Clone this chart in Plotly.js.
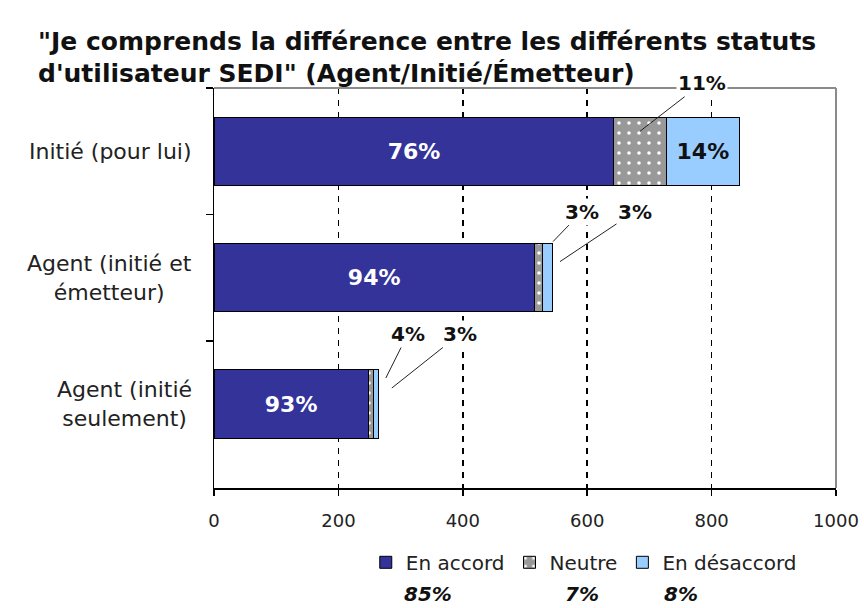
<!DOCTYPE html>
<html>
<head>
<meta charset="utf-8">
<script src="https://cdn.plot.ly/plotly-3.0.1.min.js"></script>
<style>html,body{margin:0;padding:0;background:#fff;}#chart{width:864px;height:608px;}</style>
</head>
<body>
<div id="chart"></div>
<script>
// ---- data ----
const categories = ['Initié (pour lui)', 'Agent (initié et émetteur)', 'Agent (initié seulement)'];
const categoryLabels = ['Initié (pour lui)', 'Agent (initié et<br>émetteur)', 'Agent (initié<br>seulement)'];
const seriesNames = ['En accord', 'Neutre', 'En désaccord'];
const enAccord = [643, 515, 248];
const neutre = [84, 13, 9];
const enDesaccord = [118, 17, 8];
const pctAccord = ['76%', '94%', '93%'];
const pctNeutre = ['11%', '3%', '4%'];
const pctDesaccord = ['14%', '3%', '3%'];
const totalsPct = ['85%', '7%', '8%'];
const xTicks = [0, 200, 400, 600, 800, 1000];

const FONT = '"DejaVu Sans", Verdana, sans-serif';
const colors = ['#333399', '#999999', '#99CCFF'];

const traces = [
  {
    type: 'bar', orientation: 'h', name: seriesNames[0],
    y: categories, x: enAccord, text: pctAccord,
    textposition: 'inside', insidetextanchor: 'middle', textangle: 0,
    textfont: {family: FONT, size: 22, color: '#ffffff', weight: 'bold'},
    marker: {color: colors[0], line: {color: '#000', width: 1}},
    hoverinfo: 'skip'
  },
  {
    type: 'bar', orientation: 'h', name: seriesNames[1],
    y: categories, x: neutre,
    marker: {color: colors[1], line: {color: '#000', width: 1},
      pattern: {shape: '.', fgcolor: '#ffffff', bgcolor: colors[1], size: 10, solidity: 0.1, fillmode: 'replace'}},
    hoverinfo: 'skip'
  },
  {
    type: 'bar', orientation: 'h', name: seriesNames[2],
    y: categories, x: enDesaccord, text: pctDesaccord,
    textposition: 'inside', insidetextanchor: 'middle', textangle: 0,
    textfont: {family: FONT, size: 22, color: '#111111', weight: 'bold'},
    marker: {color: colors[2], line: {color: '#000', width: 1}},
    hoverinfo: 'skip'
  }
];

const totals = categories.map((c, i) => enAccord[i] + neutre[i] + enDesaccord[i]);

const annotations = [];
// category labels (centered, multi-line)
categories.forEach((c, i) => {
  annotations.push({
    xref: 'paper', x: 0, xanchor: 'right', xshift: -20,
    yref: 'y', y: c, yanchor: 'middle',
    text: categoryLabels[i], align: 'center', showarrow: false,
    font: {family: FONT, size: 22, color: '#222'}
  });
});

const leaderFont = {family: FONT, size: 20, color: '#111', weight: 'bold'};
function leader(xv, cat, txt, xs, ys, ax, ay) {
  annotations.push({
    xref: 'x', x: xv, yref: 'y', y: cat, xshift: xs, yshift: ys,
    text: txt, showarrow: true, arrowhead: 0, arrowwidth: 1, arrowcolor: '#222',
    ax: ax, ay: ay, font: leaderFont, bgcolor: '#ffffff', borderpad: 1
  });
}
// neutre label on first bar
leader(enAccord[0] + neutre[0] / 2, categories[0], pctNeutre[0], 0, 20, 62, -48);
// second bar
leader(totals[1], categories[1], pctNeutre[1], 0, 36, 29, -30);
leader(totals[1], categories[1], pctDesaccord[1], 7, 16, 75, -50);
// third bar
leader(totals[2], categories[2], pctNeutre[2], 7, 26, 22, -44);
leader(totals[2], categories[2], pctDesaccord[2], 13, 16, 68, -54);

// totals under legend
const totalsX = [0.344, 0.592, 0.781];
totalsPct.forEach((t, i) => {
  annotations.push({
    xref: 'paper', x: totalsX[i], yref: 'paper', y: -0.265, yanchor: 'middle',
    text: t, showarrow: false,
    font: {family: FONT, size: 20, color: '#111', weight: 'bold', style: 'italic'}
  });
});

const layout = {
  width: 864, height: 608,
  margin: {l: 214, r: 28, t: 88, b: 120},
  paper_bgcolor: '#ffffff', plot_bgcolor: '#ffffff',
  barmode: 'stack', bargap: 0.46,
  uniformtext: {mode: 'hide', minsize: 20},
  title: {
    text: '"Je comprends la différence entre les différents statuts<br>d\'utilisateur SEDI" (Agent/Initié/Émetteur)',
    xref: 'container', x: 0.044, xanchor: 'left',
    yref: 'container', y: 0.918, yanchor: 'top',
    font: {family: FONT, size: 25, color: '#111', weight: 'bold'}
  },
  xaxis: {
    range: [0, 1000], tickvals: xTicks, ticktext: xTicks.map(String),
    showline: true, linecolor: '#000', linewidth: 1.5,
    ticks: 'outside', ticklen: 6, tickcolor: '#000', tickwidth: 1.5,
    ticklabelstandoff: 10,
    showgrid: true, gridcolor: '#000', gridwidth: 1.5, griddash: '6px,6px',
    zeroline: false,
    tickfont: {family: FONT, size: 18, color: '#222'}
  },
  yaxis: {
    type: 'category', autorange: 'reversed',
    showline: true, linecolor: '#000', linewidth: 1.5,
    ticks: 'outside', tickson: 'boundaries', ticklen: 7, tickcolor: '#000', tickwidth: 1.5,
    showticklabels: false, showgrid: false, zeroline: false
  },
  showlegend: true,
  legend: {
    orientation: 'h', x: 0.244, xanchor: 'left', y: -0.137, yanchor: 'top',
    font: {family: FONT, size: 20, color: '#222'},
    traceorder: 'normal', itemclick: false, itemdoubleclick: false
  },
  shapes: [
    {type: 'line', layer: 'above', xref: 'paper', yref: 'paper', x0: 0, x1: 1, y0: 1, y1: 1,
     line: {color: '#8a8a8a', width: 2}},
    {type: 'line', layer: 'above', xref: 'paper', yref: 'paper', x0: 1, x1: 1, y0: 0, y1: 1,
     line: {color: '#8a8a8a', width: 2}}
  ],
  annotations: annotations
};

Plotly.newPlot('chart', traces, layout, {displayModeBar: false, staticPlot: true});
</script>
</body>
</html>
